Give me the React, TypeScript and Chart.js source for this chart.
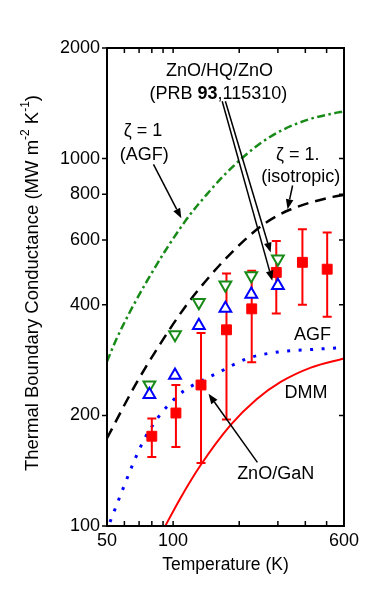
import React, { useEffect, useRef } from 'react';
import { Chart, registerables } from 'chart.js';

Chart.register(...registerables);

// ---- axes ----
const xTickValues = [50, 60, 70, 80, 90, 100, 200, 300, 400, 500, 600];
const xTickLabels = ['50', '', '', '', '', '100', '', '', '', '', '600'];
const yTickValues = [100, 200, 400, 600, 800, 1000, 2000];
const yTickLabels = ['100', '200', '400', '600', '800', '1000', '2000'];

// ---- ZnO/GaN measurements (red squares with error bars) ----
const measT = [80, 103, 134, 175, 228, 295, 388, 503];
const measG = [175.5, 203, 242, 342, 390, 490, 522, 500];
const measHi = [196, 242, 335, 487, 495, 597, 642, 629];
const measLo = [154, 164, 148.5, 195, 279, 379, 400, 371];

// ---- ZnO/HQ/ZnO (PRB 93, 115310) ----
const hqT = [78, 102, 131, 173, 227, 300];
const hqUpG = [228, 257, 351, 391, 427, 451];
const hqDownG = [242, 332, 406, 453, 480, 533];

// ---- model curves ----
const agfZetaT = [50, 55.6, 76.2, 112.5, 144.8, 173.2, 207.1, 255.6, 315.6, 415, 534.3, 600];
const agfZetaG = [280.4, 325.8, 465.2, 670.5, 808.6, 908.9, 1005.6, 1111.3, 1197.7, 1278.5, 1327, 1344];

const isoT = [50, 67.1, 87.4, 111.7, 133.1, 170.1, 221.4, 263.9, 339.7, 534.3, 600];
const isoG = [173.3, 241.3, 313.2, 389.8, 446.1, 527.4, 614.8, 668.3, 725.7, 786.8, 796];

const agfT = [51.6, 59.4, 66.0, 73.3, 85.8, 93.7, 111.7, 133.1, 164.3, 217.7, 299.5, 423.8, 600];
const agfG = [102.5, 127.2, 148.7, 170.6, 198.2, 211.2, 233.0, 247.5, 263.4, 285.7, 297.5, 302.2, 306.1];

const dmmT = [90.2, 107.8, 133.1, 182.5, 240, 309, 423.8, 600];
const dmmG = [97.7, 118.9, 146.1, 188.2, 221.4, 246.7, 269.9, 285.9];

// ---- annotations (data coordinates) ----
const labelTexts = ['ζ = 1', '(AGF)', 'ζ = 1.', '(isotropic)', 'AGF', 'DMM', 'ZnO/GaN', 'ZnO/HQ/ZnO'];
const labelT = [73, 73.9, 369.6, 381, 431.5, 402.6, 293, 162.6];
const labelG = [1188, 1022, 1022, 891, 330, 230, 138.4, 1728];
const refLabelParts = ['(PRB ', '93', ',115310)'];
const refLabelT = 160.7;
const refLabelG = 1496;

const arrowFromT = [81.4, 350, 167.3, 173, 242];
const arrowFromG = [964, 845, 1432, 1432, 149];
const arrowToT = [109, 332, 283, 278, 145];
const arrowToG = [688, 728, 465, 555, 229];

const FONT = '"Liberation Sans", Arial, Helvetica, sans-serif';
const RED = '#ff0000';
const BLUE = '#0000ff';
const GREEN = '#178a17';

const toXY = (ts: number[], gs: number[]) => ts.map((t, i) => ({ x: t, y: gs[i] }));

const SQUARES_INDEX = 2;

const decorPlugin = {
  id: 'decor',
  beforeDatasetDraw(chart: any, args: any) {
    if (args.index !== SQUARES_INDEX) return;
    const ctx = chart.ctx;
    const xs = chart.scales.x;
    const ys = chart.scales.y;
    ctx.save();
    ctx.strokeStyle = RED;
    ctx.lineWidth = 2;
    for (let i = 0; i < measT.length; i++) {
      const x = xs.getPixelForValue(measT[i]);
      const y1 = ys.getPixelForValue(measHi[i]);
      const y2 = ys.getPixelForValue(measLo[i]);
      ctx.beginPath();
      ctx.moveTo(x, y1);
      ctx.lineTo(x, y2);
      ctx.moveTo(x - 4.5, y1);
      ctx.lineTo(x + 4.5, y1);
      ctx.moveTo(x - 4.5, y2);
      ctx.lineTo(x + 4.5, y2);
      ctx.stroke();
    }
    ctx.restore();
  },
  afterDraw(chart: any) {
    const ctx = chart.ctx;
    const xs = chart.scales.x;
    const ys = chart.scales.y;
    const a = chart.chartArea;
    ctx.save();
    // frame
    ctx.strokeStyle = '#000';
    ctx.lineWidth = 2;
    ctx.strokeRect(a.left, a.top, a.right - a.left, a.bottom - a.top);
    // ticks
    ctx.lineWidth = 1.5;
    ctx.beginPath();
    yTickValues.forEach((v) => {
      const y = ys.getPixelForValue(v);
      ctx.moveTo(a.left - 5, y);
      ctx.lineTo(a.left, y);
      ctx.moveTo(a.right - 5, y);
      ctx.lineTo(a.right, y);
    });
    xTickValues.forEach((v) => {
      const x = xs.getPixelForValue(v);
      ctx.moveTo(x, a.bottom);
      ctx.lineTo(x, a.bottom - 5);
      ctx.moveTo(x, a.top);
      ctx.lineTo(x, a.top + 5);
    });
    ctx.stroke();

    // arrows
    ctx.fillStyle = '#000';
    ctx.strokeStyle = '#000';
    ctx.lineWidth = 1.5;
    for (let i = 0; i < arrowFromT.length; i++) {
      const x0 = xs.getPixelForValue(arrowFromT[i]);
      const y0 = ys.getPixelForValue(arrowFromG[i]);
      const x1 = xs.getPixelForValue(arrowToT[i]);
      const y1 = ys.getPixelForValue(arrowToG[i]);
      const ang = Math.atan2(y1 - y0, x1 - x0);
      const hl = 10;
      const hw = 3.8;
      const bx = x1 - Math.cos(ang) * hl;
      const by = y1 - Math.sin(ang) * hl;
      ctx.beginPath();
      ctx.moveTo(x0, y0);
      ctx.lineTo(bx, by);
      ctx.stroke();
      ctx.beginPath();
      ctx.moveTo(x1, y1);
      ctx.lineTo(bx + Math.sin(ang) * hw, by - Math.cos(ang) * hw);
      ctx.lineTo(bx - Math.sin(ang) * hw, by + Math.cos(ang) * hw);
      ctx.closePath();
      ctx.fill();
    }

    // labels
    ctx.font = `18px ${FONT}`;
    ctx.textAlign = 'center';
    ctx.textBaseline = 'middle';
    for (let i = 0; i < labelTexts.length; i++) {
      ctx.fillText(labelTexts[i], xs.getPixelForValue(labelT[i]), ys.getPixelForValue(labelG[i]));
    }
    // reference label with bold volume number
    const fonts = [`18px ${FONT}`, `bold 18px ${FONT}`, `18px ${FONT}`];
    let total = 0;
    const widths = refLabelParts.map((p, i) => {
      ctx.font = fonts[i];
      const w = ctx.measureText(p).width;
      total += w;
      return w;
    });
    let cx = xs.getPixelForValue(refLabelT) - total / 2;
    const cy = ys.getPixelForValue(refLabelG);
    ctx.textAlign = 'left';
    refLabelParts.forEach((p, i) => {
      ctx.font = fonts[i];
      ctx.fillText(p, cx, cy);
      cx += widths[i];
    });

    // y axis title with superscripts
    const segs = [
      { t: 'Thermal Boundary Conductance (MW m', sup: false },
      { t: '-2', sup: true },
      { t: ' K', sup: false },
      { t: '-1', sup: true },
      { t: ')', sup: false },
    ];
    const mainF = `18.5px ${FONT}`;
    const supF = `12px ${FONT}`;
    let tw = 0;
    const sw = segs.map((s) => {
      ctx.font = s.sup ? supF : mainF;
      const w = ctx.measureText(s.t).width;
      tw += w;
      return w;
    });
    ctx.translate(a.left - 74, (a.top + a.bottom) / 2 - 4);
    ctx.rotate(-Math.PI / 2);
    let px = -tw / 2;
    segs.forEach((s, i) => {
      ctx.font = s.sup ? supF : mainF;
      ctx.fillText(s.t, px, s.sup ? -7 : 0);
      px += sw[i];
    });
    ctx.restore();
  },
};

export default function App() {
  const canvasRef = useRef<HTMLCanvasElement | null>(null);

  useEffect(() => {
    const canvas = canvasRef.current;
    if (!canvas) return;
    const chart = new Chart(canvas, {
      type: 'line',
      data: {
        datasets: [
          {
            label: 'ZnO/HQ/ZnO up',
            data: toXY(hqT, hqUpG),
            showLine: false,
            pointStyle: 'triangle',
            pointRadius: 6.8,
            pointBorderWidth: 2,
            pointBorderColor: BLUE,
            pointBackgroundColor: '#ffffff',
            order: 0,
          },
          {
            label: 'ZnO/HQ/ZnO down',
            data: toXY(hqT, hqDownG),
            showLine: false,
            pointStyle: 'triangle',
            pointRotation: 180,
            pointRadius: 6.8,
            pointBorderWidth: 2,
            pointBorderColor: GREEN,
            pointBackgroundColor: '#ffffff',
            order: 1,
          },
          {
            label: 'ZnO/GaN',
            data: toXY(measT, measG),
            showLine: false,
            pointStyle: 'rect',
            pointRadius: 7,
            pointBorderWidth: 1,
            pointBorderColor: RED,
            pointBackgroundColor: RED,
            order: 2,
          },
          {
            label: 'zeta=1 AGF',
            data: toXY(agfZetaT, agfZetaG),
            borderColor: GREEN,
            borderWidth: 2.5,
            borderDash: [8, 3.5, 2.5, 3.5],
            pointRadius: 0,
            cubicInterpolationMode: 'monotone',
            fill: false,
            order: 3,
          },
          {
            label: 'zeta=1 isotropic',
            data: toXY(isoT, isoG),
            borderColor: '#000000',
            borderWidth: 2.5,
            borderDash: [11, 7],
            pointRadius: 0,
            cubicInterpolationMode: 'monotone',
            fill: false,
            order: 4,
          },
          {
            label: 'AGF',
            data: toXY(agfT, agfG),
            borderColor: BLUE,
            borderWidth: 3,
            borderDash: [3, 8.5],
            pointRadius: 0,
            cubicInterpolationMode: 'monotone',
            fill: false,
            order: 5,
          },
          {
            label: 'DMM',
            data: toXY(dmmT, dmmG),
            borderColor: RED,
            borderWidth: 2,
            pointRadius: 0,
            cubicInterpolationMode: 'monotone',
            fill: false,
            order: 6,
          },
        ],
      },
      options: {
        animation: false,
        responsive: false,
        devicePixelRatio: 1,
        layout: { padding: { top: 48, right: 37, left: 0, bottom: 0 } },
        plugins: {
          legend: { display: false },
          tooltip: { enabled: false },
        },
        scales: {
          x: {
            type: 'logarithmic',
            min: 50,
            max: 600,
            grid: { display: false, drawTicks: false },
            border: { display: false },
            afterBuildTicks: (axis: any) => {
              axis.ticks = xTickValues.map((v) => ({ value: v }));
            },
            afterFit: (axis: any) => {
              axis.height = 69;
            },
            ticks: {
              autoSkip: false,
              maxRotation: 0,
              padding: 4,
              color: '#000',
              font: { family: FONT, size: 18 },
              callback: (_v: any, i: number) => xTickLabels[i],
            },
            title: {
              display: true,
              text: 'Temperature (K)',
              color: '#000',
              font: { family: FONT, size: 17.5 },
              padding: { top: 0, bottom: 19 },
            },
          },
          y: {
            type: 'logarithmic',
            min: 100,
            max: 2000,
            grid: { display: false, drawTicks: false },
            border: { display: false },
            afterBuildTicks: (axis: any) => {
              axis.ticks = yTickValues.map((v) => ({ value: v }));
            },
            afterFit: (axis: any) => {
              axis.width = 107;
            },
            ticks: {
              autoSkip: false,
              padding: 7,
              color: '#000',
              font: { family: FONT, size: 18 },
              callback: (_v: any, i: number) => yTickLabels[i],
            },
          },
        },
      },
      plugins: [decorPlugin],
    } as any);
    return () => chart.destroy();
  }, []);

  return (
    <div style={{ position: 'absolute', left: 0, top: 0, width: 381, height: 595, background: '#fff' }}>
      <canvas ref={canvasRef} width={381} height={595} style={{ display: 'block', width: 381, height: 595 }} />
    </div>
  );
}
